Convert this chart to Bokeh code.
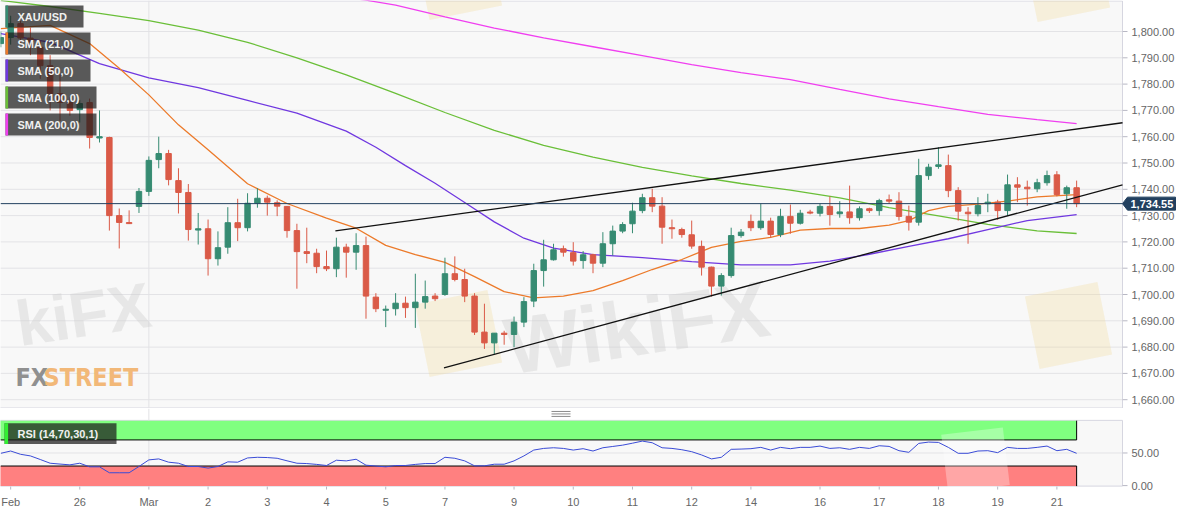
import numpy as np
from bokeh.plotting import figure
from bokeh.models import Range1d, FixedTicker
from bokeh.layouts import column
from bokeh.embed import file_html
from bokeh.resources import INLINE
from bokeh.core.properties import value

# ---------------- data ----------------
candle_idx = list(range(110))
opens = [1795.4,1797.7,1803.0,1797.5,1794.0,1787.0,1776.4,1773.0,1770.3,1773.0,
         1759.5,1759.7,1730.0,1727.3,1733.5,1739.2,1751.3,1753.6,1743.3,1738.8,
         1724.5,1725.0,1713.6,1718.0,1727.3,1725.4,1734.7,1736.6,1734.9,1733.5,
         1724.3,1716.3,1715.7,1710.6,1709.8,1718.0,1716.1,1718.6,1699.0,1694.0,
         1694.6,1696.7,1695.0,1697.1,1699.4,1700.0,1707.9,1705.7,1699.4,1685.7,
         1681.6,1685.3,1684.8,1689.5,1697.5,1709.1,1713.2,1717.4,1715.9,1712.9,
         1715.1,1711.9,1719.3,1724.1,1726.9,1731.9,1736.8,1733.6,1725.4,1724.7,
         1722.7,1718.3,1710.4,1703.2,1707.2,1722.4,1727.8,1725.4,1727.9,1722.8,
         1729.7,1727.1,1731.3,1730.9,1733.5,1730.7,1731.4,1729.2,1732.6,1731.9,
         1736.0,1735.5,1729.7,1727.5,1745.2,1748.7,1749.0,1739.5,1731.3,1730.7,
         1734.5,1735.1,1731.9,1741.7,1740.8,1740.2,1742.5,1745.5,1738.3,1740.6]
highs = [1800.0,1806.0,1804.0,1801.5,1796.5,1791.0,1784.0,1775.0,1774.0,1774.5,
         1770.0,1760.0,1732.7,1732.0,1740.5,1752.5,1760.0,1755.0,1748.0,1742.0,
         1731.0,1728.5,1724.0,1733.2,1736.4,1738.5,1740.4,1737.6,1735.8,1733.5,
         1726.9,1725.4,1717.4,1716.7,1721.6,1719.3,1723.3,1722.0,1700.5,1695.8,
         1700.5,1699.2,1707.9,1705.3,1700.5,1714.0,1714.5,1709.8,1700.5,1696.5,
         1685.3,1686.2,1691.6,1699.0,1711.7,1720.8,1719.3,1718.6,1719.9,1716.5,
         1715.5,1723.7,1726.2,1727.5,1734.9,1738.3,1740.2,1737.0,1728.5,1725.4,
         1728.1,1720.5,1710.6,1708.1,1725.4,1724.9,1730.4,1734.5,1729.2,1732.6,
         1734.2,1732.2,1732.2,1734.5,1737.3,1735.5,1741.4,1733.5,1733.0,1736.4,
         1738.0,1738.9,1733.8,1751.6,1749.7,1756.0,1753.2,1740.8,1733.2,1737.0,
         1738.3,1736.0,1745.6,1744.6,1743.3,1744.0,1747.1,1746.9,1741.4,1743.3]
lows = [1794.0,1795.0,1795.0,1791.0,1782.0,1770.0,1766.0,1768.0,1765.4,1755.5,
        1757.8,1724.3,1717.5,1726.8,1731.0,1737.5,1748.0,1741.5,1730.8,1720.5,
        1719.0,1707.2,1711.0,1715.5,1720.3,1724.0,1733.0,1730.0,1729.8,1721.6,
        1702.2,1711.9,1708.1,1708.9,1706.6,1706.4,1709.4,1690.8,1693.3,1687.6,
        1692.0,1691.1,1687.3,1694.6,1697.5,1699.5,1705.0,1697.1,1684.6,1679.3,
        1677.2,1680.9,1680.0,1687.6,1695.2,1703.0,1712.9,1714.4,1711.0,1709.8,
        1708.1,1710.4,1714.8,1723.3,1723.3,1730.9,1731.3,1719.3,1721.2,1721.6,
        1717.4,1707.2,1699.2,1699.6,1706.4,1721.6,1724.1,1724.6,1721.6,1721.8,
        1723.1,1726.6,1730.5,1729.7,1726.2,1729.2,1726.9,1728.1,1731.0,1730.0,
        1734.7,1728.1,1724.3,1726.2,1743.6,1747.8,1737.0,1728.1,1719.3,1729.7,
        1731.3,1728.4,1730.0,1735.1,1733.8,1738.9,1741.4,1737.3,1732.6,1733.2]
closes = [1797.7,1803.0,1797.5,1796.0,1787.0,1776.4,1773.0,1770.0,1772.6,1759.7,
          1760.0,1730.0,1727.4,1727.0,1739.2,1751.0,1753.6,1743.7,1738.8,1724.7,
          1725.0,1713.6,1717.8,1727.3,1725.4,1734.7,1736.6,1735.1,1733.6,1724.3,
          1716.3,1715.6,1710.6,1709.8,1718.0,1716.1,1718.6,1699.4,1694.6,1694.4,
          1696.7,1695.0,1697.1,1699.2,1698.4,1707.9,1705.7,1699.4,1685.7,1681.6,
          1685.3,1684.8,1689.5,1697.3,1709.1,1713.2,1717.0,1716.1,1712.7,1715.1,
          1711.9,1719.3,1724.1,1726.6,1731.7,1736.8,1733.6,1725.6,1725.0,1722.8,
          1718.4,1710.4,1703.2,1707.2,1722.4,1723.7,1725.4,1727.9,1722.8,1729.7,
          1727.1,1730.9,1731.0,1733.5,1730.4,1731.4,1729.2,1732.6,1731.9,1735.7,
          1735.5,1729.7,1727.5,1745.2,1748.4,1749.3,1739.5,1731.7,1730.7,1733.8,
          1735.1,1731.9,1741.7,1740.8,1740.2,1742.5,1745.2,1738.0,1740.6,1734.55]

sma21_idx = [0,5,9,12,15,18,21,25,29,33,36,39,42,45,48,51,54,57,60,63,66,69,72,75,78,81,84,87,90,92,94,96,99,102,105,109]
sma21 = [1801.1,1802.3,1795.4,1786.0,1775.9,1764.5,1755.0,1742.1,1734.6,1729.0,1725.2,1718.7,1715.2,1712.2,1706.8,1701.1,
         1698.7,1699.4,1701.5,1705.3,1709.5,1713.3,1717.9,1720.2,1721.7,1724.5,1725.1,1725.1,1726.4,1728.1,1731.9,1733.5,
         1734.4,1735.5,1737.1,1738.0]
sma50_idx = [0,5,10,15,20,25,30,35,38,41,44,47,50,53,56,60,65,70,75,80,84,88,92,96,100,104,109]
sma50 = [1799.2,1795.9,1787.8,1782.4,1778.7,1773.8,1769.0,1762.1,1756.0,1749.0,1742.3,1735.0,1727.6,1721.4,1717.6,
         1715.2,1714.0,1712.5,1711.3,1711.3,1712.7,1715.3,1718.3,1721.2,1724.7,1728.1,1730.4]
sma100_idx = [0,5,10,15,20,25,30,35,40,45,50,55,60,65,70,75,80,85,90,95,100,105,109]
sma100 = [1811.8,1809.5,1806.9,1804.1,1800.5,1795.9,1790.0,1783.5,1776.5,1769.2,1762.4,1756.7,1752.2,1748.3,1745.1,
          1742.2,1739.7,1736.7,1733.0,1729.9,1726.7,1724.2,1723.2]
sma200_idx = [35,37,40,45,50,55,60,65,70,75,80,85,90,95,100,105,109]
sma200 = [1813.0,1811.9,1810.0,1805.6,1801.3,1797.6,1794.2,1790.8,1787.4,1784.4,1781.7,1778.0,1774.4,1771.4,1768.5,
          1766.5,1765.0]

trend_upper_idx = [33.9, 113.65]
trend_upper_price = [1724.2, 1765.3]
trend_lower_idx = [44.9, 113.65]
trend_lower_price = [1672.1, 1741.7]
last_price = 1734.55

rsi = [49.5,53,48,45.5,40,34.3,33,31.8,34.3,28.8,
       28.8,19.7,19.7,19.7,29.3,39.4,40.9,35.9,34.3,29.3,
       29.3,26.8,29.3,36.4,35.9,42.4,43.4,43,41.9,38,
       34.3,33.8,32.5,30.8,38.9,37.9,40.4,31.3,30,28.8,
       30.8,30.8,32.5,33.8,33.8,43.4,41.9,37.9,30.3,30.3,
       32.8,32.8,37.9,45.5,54.5,57,58,57,54.5,56.6,
       53,58,60,62,65,68.2,65.7,58,57,55,
       52,47,40.9,43.4,55.6,56,56.6,58.6,54.5,58.6,
       56.6,58.6,58.6,60.6,57,58,55.6,58.6,57,61.1,
       60.1,53.5,51,64.7,66.7,66.2,58.6,49.5,49.5,53,
       53.5,50.5,58.6,57,57,58.6,60.6,53.5,55.6,49.5]
rsi_upper = 70
rsi_lower = 30

date_tick_idx = [1,8,15,21,27,33,39,45,52,58,64,70,76,83,89,95,101,107]
date_tick_labels = ["Feb","26","Mar","2","3","4","5","7","9","10","11","12","14","16","17","18","19","21"]
month_start_idx = [15]
price_ticks = list(range(1660, 1801, 10))
rsi_ticks = [0, 50]
legend_labels = ["XAU/USD", "SMA (21,0)", "SMA (50,0)", "SMA (100,0)", "SMA (200,0)"]
rsi_label = "RSI (14,70,30,1)"

# ---------------- layout geometry (pixels of the page) ----------------
W = 1190
PANEL_W = 1122
PX_K = 9.87
K0 = 0.3
def sx_k(sx):
    return (sx - K0) / PX_K
K_MIN = sx_k(0)
K_MAX = sx_k(W)
K_PANEL = sx_k(PANEL_W)
PX_USD = 2.63
def sy_p(sy):
    return 1800 - (sy - 31) / PX_USD
A_H = 408
P_TOP, P_BOT = sy_p(0), sy_p(A_H)
B_TOP = A_H
B_FRAME = 87          # RSI panel 408..487 plus room for the 0.00 label
B_BOT = 15
PX_RSI = 0.66
def sy_r(sy):
    return (486 - sy) / PX_RSI
R_HI, R_LO = sy_r(B_TOP), sy_r(B_TOP + B_FRAME)
R_PANEL_BOT = sy_r(486.5)

GREEN = "#368b72"
RED = "#da5a47"
C21, C50, C100, C200 = "#ec7a2a", "#7038e0", "#6abf38", "#f03ff0"
FONT = "Liberation Sans"
GRID = "#e3e3e6"
BORDER = "#d6d6e0"
TICK = "#b8b8c4"
LABEL = "#666666"
PANEL_BG = "#f8f8f8"
NAVY = "#22405f"

def fmt(v):
    return "{:,.2f}".format(v)

# ---------------- main panel ----------------
pA = figure(width=W, height=A_H, x_range=Range1d(K_MIN, K_MAX), y_range=Range1d(P_BOT, P_TOP),
            output_backend="svg", toolbar_location=None, x_axis_location=None, y_axis_location=None,
            min_border_left=0, min_border_right=0, min_border_top=0, min_border_bottom=0,
            background_fill_color="#ffffff", border_fill_color="#ffffff", outline_line_color=None, title=None)
pA.grid.visible = False

pA.quad(left=[K_MIN - 1], right=[K_PANEL], top=[sy_p(0.5)], bottom=[sy_p(A_H - 0.5)],
        fill_color=PANEL_BG, line_color=BORDER, line_width=1, level="image")
pA.segment(x0=[K_MIN] * len(price_ticks), x1=[K_PANEL] * len(price_ticks), y0=price_ticks, y1=price_ticks,
           line_color=GRID, line_width=1)
pA.segment(x0=month_start_idx, x1=month_start_idx, y0=[P_BOT] * len(month_start_idx), y1=[P_TOP] * len(month_start_idx),
           line_color=GRID, line_width=1)
# price scale: tick marks and labels
pA.segment(x0=[K_PANEL] * len(price_ticks), x1=[sx_k(PANEL_W + 5)] * len(price_ticks), y0=price_ticks, y1=price_ticks,
           line_color=TICK, line_width=1)
pA.text(x=[sx_k(PANEL_W + 9)] * len(price_ticks), y=price_ticks, text=[fmt(t) for t in price_ticks],
        text_font=value(FONT), text_font_size="11px", text_color=LABEL, text_baseline="middle", text_align="left")

# watermarks
pA.rect(x=[sx_k(458), sx_k(1068), sx_k(458), sx_k(1066)], y=[sy_p(333), sy_p(325), sy_p(-24), sy_p(-22)],
        width=74, height=74, width_units="screen", height_units="screen", angle=0.2,
        fill_color="#f0d890", fill_alpha=0.28, line_color=None)
pA.text(x=[sx_k(16)], y=[sy_p(324)], text=["kiFX"], angle=0.15,
        text_font=value(FONT), text_font_size="64px", text_font_style="bold",
        text_color="#c9c9c9", text_alpha=0.36, text_baseline="alphabetic", text_align="left")
pA.text(x=[sx_k(505)], y=[sy_p(347)], text=["WikiFX"], angle=0.15,
        text_font=value(FONT), text_font_size="80px", text_font_style="bold",
        text_color="#c9c9c9", text_alpha=0.36, text_baseline="alphabetic", text_align="left")
pA.text(x=[sx_k(15)], y=[sy_p(377)], text=["FX"], text_font=value("DejaVu Sans Condensed"),
        text_font_size="25px", text_font_style="bold", text_color="#909090", text_baseline="middle")
pA.text(x=[sx_k(43)], y=[sy_p(377)], text=["STREET"], text_font=value("DejaVu Sans Condensed"),
        text_font_size="25px", text_font_style="bold", text_color="#f2b878", text_baseline="middle")

# SMAs
pA.line(sma200_idx, sma200, line_color=C200, line_width=1.3)
pA.line(sma100_idx, sma100, line_color=C100, line_width=1.3)
pA.line(sma50_idx, sma50, line_color=C50, line_width=1.3)
pA.line(sma21_idx, sma21, line_color=C21, line_width=1.3)

# candles
o = np.array(opens); c = np.array(closes)
up = c >= o
cols = [GREEN if u else RED for u in up]
btop = np.maximum(o, c); bbot = np.minimum(o, c)
mid = (btop + bbot) / 2
small = (btop - bbot) < 0.4
btop = np.where(small, mid + 0.2, btop); bbot = np.where(small, mid - 0.2, bbot)
pA.segment(x0=candle_idx, y0=lows, x1=candle_idx, y1=highs, line_color=cols, line_width=1)
pA.vbar(x=candle_idx, width=0.55, top=btop, bottom=bbot, fill_color=cols, line_color=cols, line_width=1)

# trend lines and last price line
pA.line(trend_upper_idx, trend_upper_price, line_color="#111111", line_width=1.3)
pA.line(trend_lower_idx, trend_lower_price, line_color="#111111", line_width=1.3)
pA.segment(x0=[K_MIN], x1=[K_PANEL], y0=[last_price], y1=[last_price], line_color=NAVY, line_width=1)

# last price tag on the price scale
half = 6.5 / PX_USD
pA.patch(x=[sx_k(PANEL_W), sx_k(PANEL_W + 5), sx_k(1175), sx_k(1175), sx_k(PANEL_W + 5)],
         y=[last_price, last_price + half, last_price + half, last_price - half, last_price - half],
         fill_color=NAVY, line_color=NAVY)
pA.text(x=[sx_k(PANEL_W + 8)], y=[last_price], text=[fmt(last_price)], text_font=value(FONT),
        text_font_size="11px", text_font_style="bold", text_color="#ffffff", text_baseline="middle",
        text_align="left")

# legend boxes
box_right = [83, 90, 90, 96, 96]
box_top = [5, 32, 59, 86, 113]
box_cols = [GREEN, C21, C50, C100, C200]
pA.quad(left=[sx_k(5)] * 5, right=[sx_k(r) for r in box_right],
        top=[sy_p(t) for t in box_top], bottom=[sy_p(t + 22) for t in box_top],
        fill_color="#1c1c1c", fill_alpha=0.72, line_color=None)
pA.quad(left=[sx_k(5)] * 5, right=[sx_k(7.6)] * 5,
        top=[sy_p(t) for t in box_top], bottom=[sy_p(t + 22) for t in box_top],
        fill_color=box_cols, line_color=None)
pA.text(x=[sx_k(17)] * 5, y=[sy_p(t + 11.5) for t in box_top], text=legend_labels,
        text_font=value(FONT), text_font_size="11px", text_font_style="bold",
        text_color="#f0f0f0", text_baseline="middle", text_align="left")

# ---------------- RSI panel ----------------
pB = figure(width=W, height=B_FRAME + B_BOT, x_range=pA.x_range, y_range=Range1d(R_LO, R_HI),
            output_backend="svg", toolbar_location=None, y_axis_location=None,
            min_border_left=0, min_border_right=0, min_border_top=0, min_border_bottom=B_BOT,
            background_fill_color="#ffffff", border_fill_color="#ffffff", outline_line_color=None, title=None)
pB.grid.visible = False
pB.quad(left=[K_MIN - 1], right=[K_PANEL], bottom=[R_PANEL_BOT], top=[100],
        fill_color=PANEL_BG, line_color=BORDER, line_width=1, level="image")
pB.segment(x0=[K_MIN], x1=[K_PANEL], y0=[50], y1=[50], line_color=GRID, line_width=1)
pB.segment(x0=month_start_idx, x1=month_start_idx, y0=[R_PANEL_BOT] * len(month_start_idx),
           y1=[R_HI] * len(month_start_idx), line_color=GRID, line_width=1)

last_k = candle_idx[-1]
pB.quad(left=[K_MIN - 1, K_MIN - 1], right=[last_k, last_k], bottom=[rsi_upper, R_PANEL_BOT], top=[99.5, rsi_lower],
        fill_color=["#80ff80", "#ff8080"], line_color=None)
pB.segment(x0=[K_MIN, K_MIN, last_k, last_k], y0=[rsi_upper, rsi_lower, rsi_upper, R_PANEL_BOT],
           x1=[last_k, last_k, last_k, last_k], y1=[rsi_upper, rsi_lower, 99.5, rsi_lower],
           line_color="#000000", line_width=1)
pB.rect(x=[sx_k(975)], y=[sy_r(460)], width=62, height=58, width_units="screen", height_units="screen",
        angle=0.12, fill_color="#ffffff", fill_alpha=0.3, line_color=None)
pB.line(candle_idx, rsi, line_color="#3a4bd6", line_width=1)

# RSI scale
pB.segment(x0=[K_PANEL] * len(rsi_ticks), x1=[sx_k(PANEL_W + 5)] * len(rsi_ticks), y0=rsi_ticks, y1=rsi_ticks,
           line_color=TICK, line_width=1)
pB.text(x=[sx_k(PANEL_W + 9)] * len(rsi_ticks), y=rsi_ticks, text=[fmt(t) for t in rsi_ticks],
        text_font=value(FONT), text_font_size="11px", text_color=LABEL, text_baseline="middle", text_align="left")

# date tick marks under the RSI panel
pB.segment(x0=date_tick_idx, x1=date_tick_idx, y0=[sy_r(487)] * len(date_tick_idx), y1=[sy_r(490)] * len(date_tick_idx),
           line_color=TICK, line_width=1)

# separator handle
hx0, hx1 = sx_k(551), sx_k(570)
hy = [sy_r(411), sy_r(413.5), sy_r(416)]
pB.segment(x0=[hx0] * 3, x1=[hx1] * 3, y0=hy, y1=hy, line_color="#8a8a8a", line_width=1)

# RSI legend box
pB.quad(left=[sx_k(4)], right=[sx_k(116)], top=[sy_r(423)], bottom=[sy_r(444)],
        fill_color="#1c1c1c", fill_alpha=0.72, line_color=None)
pB.quad(left=[sx_k(4)], right=[sx_k(7.6)], top=[sy_r(423)], bottom=[sy_r(444)],
        fill_color="#33ee33", line_color=None)
pB.text(x=[sx_k(17)], y=[sy_r(433.5)], text=[rsi_label], text_font=value(FONT), text_font_size="11px",
        text_font_style="bold", text_color="#f0f0f0", text_baseline="middle", text_align="left")

bx = pB.xaxis[0]
bx.ticker = FixedTicker(ticks=date_tick_idx)
bx.major_label_overrides = {t: lab for t, lab in zip(date_tick_idx, date_tick_labels)}
bx.major_label_text_font = FONT
bx.major_label_text_font_size = "11px"
bx.major_label_text_color = LABEL
bx.major_tick_out = 0
bx.major_tick_in = 0
bx.minor_tick_out = 0
bx.minor_tick_in = 0
bx.major_label_standoff = 1
bx.axis_line_color = None
bx.major_tick_line_color = None

layout = column(pA, pB, spacing=0)
open("out.html", "w").write(file_html(layout, INLINE))
